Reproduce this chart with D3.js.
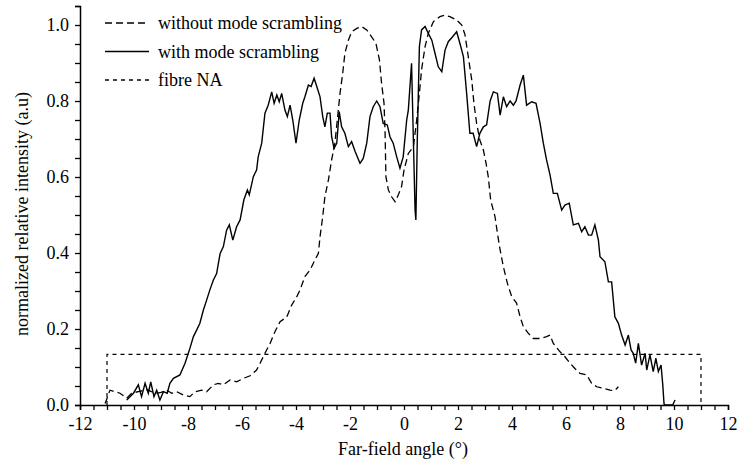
<!DOCTYPE html>
<html>
<head>
<meta charset="utf-8">
<script src="https://cdn.jsdelivr.net/npm/d3@7"></script>
<style>
  body { margin: 0; background: #fff; }
  #svg text { font-family: 'Liberation Serif', Tinos, 'Times New Roman', Times, serif !important; font-size: 18px !important; }
</style>
</head>
<body>
<svg id="svg" width="749" height="464"></svg>
<script>
// series (angle in degrees, normalised intensity)
var withAngle = [-10.27,-10.02,-9.84,-9.72,-9.59,-9.47,-9.38,-9.26,-9.16,-9.04,-8.91,-8.77,-8.67,-8.54,-8.30,-8.11,-7.93,-7.80,-7.68,-7.56,-7.43,-7.31,-7.19,-7.06,-6.94,-6.81,-6.69,-6.57,-6.47,-6.34,-6.20,-6.07,-5.93,-5.80,-5.73,-5.58,-5.46,-5.40,-5.27,-5.15,-5.03,-4.90,-4.81,-4.71,-4.62,-4.53,-4.41,-4.32,-4.22,-4.12,-4.00,-3.88,-3.75,-3.67,-3.54,-3.44,-3.33,-3.23,-3.11,-3.01,-2.93,-2.84,-2.74,-2.68,-2.59,-2.49,-2.40,-2.31,-2.19,-2.06,-1.94,-1.81,-1.63,-1.51,-1.38,-1.26,-1.14,-1.01,-0.89,-0.77,-0.62,-0.52,-0.40,-0.27,-0.15,-0.03,0.10,0.16,0.28,0.35,0.41,0.44,0.49,0.57,0.65,0.78,0.90,1.03,1.15,1.27,1.40,1.52,1.64,1.80,1.95,2.07,2.20,2.32,2.44,2.56,2.69,2.81,2.94,3.06,3.19,3.31,3.46,3.56,3.68,3.80,3.93,4.05,4.15,4.30,4.42,4.54,4.73,4.89,5.04,5.16,5.28,5.41,5.53,5.68,5.84,5.96,6.12,6.27,6.46,6.58,6.70,6.83,6.95,7.07,7.20,7.26,7.44,7.57,7.69,7.81,7.94,8.06,8.19,8.31,8.41,8.49,8.58,8.68,8.80,8.93,8.99,9.11,9.23,9.33,9.42,9.52,9.58,9.63,9.64,9.95,10.04];
var withValue = [0.013,0.031,0.053,0.022,0.057,0.031,0.061,0.022,0.039,0.013,0.035,0.031,0.057,0.070,0.079,0.110,0.149,0.180,0.197,0.215,0.250,0.276,0.303,0.329,0.346,0.399,0.417,0.460,0.474,0.434,0.469,0.487,0.540,0.566,0.553,0.601,0.618,0.653,0.689,0.768,0.789,0.824,0.794,0.816,0.798,0.820,0.776,0.759,0.789,0.750,0.689,0.750,0.794,0.811,0.842,0.838,0.860,0.838,0.811,0.759,0.732,0.768,0.768,0.706,0.675,0.689,0.772,0.732,0.715,0.680,0.693,0.667,0.636,0.649,0.689,0.759,0.785,0.800,0.785,0.741,0.737,0.706,0.689,0.653,0.623,0.653,0.750,0.776,0.899,0.689,0.513,0.487,0.689,0.943,0.987,0.996,0.978,0.960,0.925,0.890,0.877,0.934,0.956,0.969,0.982,0.952,0.917,0.820,0.715,0.715,0.680,0.715,0.732,0.737,0.800,0.824,0.820,0.763,0.811,0.785,0.800,0.789,0.800,0.842,0.868,0.789,0.798,0.794,0.741,0.689,0.645,0.605,0.557,0.557,0.513,0.526,0.531,0.474,0.478,0.456,0.469,0.447,0.447,0.474,0.434,0.390,0.377,0.324,0.324,0.232,0.215,0.184,0.158,0.184,0.145,0.136,0.110,0.162,0.105,0.136,0.092,0.132,0.088,0.123,0.088,0.105,0.057,0.004,0.000,0.000,0.013];

var withoutAngle = [-11.07,-10.89,-10.70,-10.52,-10.27,-10.09,-9.80,-9.50,-9.20,-9.00,-8.79,-8.60,-8.42,-8.17,-7.93,-7.74,-7.49,-7.31,-7.06,-6.88,-6.69,-6.44,-6.20,-5.95,-5.70,-5.46,-5.33,-5.15,-4.96,-4.78,-4.59,-4.34,-4.16,-3.97,-3.85,-3.67,-3.48,-3.30,-3.17,-3.11,-3.01,-2.93,-2.80,-2.68,-2.56,-2.47,-2.37,-2.27,-2.19,-2.06,-1.94,-1.75,-1.57,-1.38,-1.20,-1.04,-0.91,-0.83,-0.74,-0.70,-0.67,-0.58,-0.46,-0.33,-0.21,-0.09,0.00,0.16,0.35,0.47,0.57,0.65,0.78,0.90,1.09,1.33,1.52,1.70,1.95,2.14,2.26,2.38,2.51,2.59,2.69,2.81,2.94,3.04,3.12,3.21,3.37,3.46,3.56,3.68,3.83,3.99,4.17,4.30,4.42,4.60,4.79,5.04,5.28,5.41,5.53,5.78,5.96,6.15,6.33,6.52,6.77,6.95,7.14,7.38,7.63,7.81,7.94];
var withoutValue = [0.004,0.039,0.035,0.031,0.018,0.031,0.036,0.040,0.030,0.033,0.039,0.031,0.035,0.026,0.022,0.035,0.039,0.035,0.053,0.057,0.053,0.066,0.061,0.070,0.077,0.092,0.110,0.136,0.162,0.193,0.219,0.232,0.263,0.285,0.303,0.338,0.355,0.382,0.399,0.443,0.496,0.548,0.592,0.645,0.689,0.750,0.820,0.873,0.925,0.960,0.982,0.991,0.996,0.987,0.969,0.952,0.908,0.846,0.794,0.715,0.601,0.566,0.548,0.535,0.553,0.575,0.618,0.662,0.680,0.750,0.820,0.882,0.943,0.978,1.009,1.022,1.026,1.022,1.013,1.000,0.974,0.917,0.855,0.794,0.741,0.697,0.671,0.636,0.601,0.539,0.496,0.452,0.408,0.364,0.320,0.285,0.268,0.232,0.206,0.189,0.175,0.175,0.180,0.184,0.162,0.140,0.127,0.110,0.096,0.083,0.079,0.057,0.048,0.044,0.039,0.038,0.048];

var fibreAngle = [-11, -11, 11, 11];
var fibreValue = [0, 0.133, 0.133, 0];

var xTicks = [-12, -10, -8, -6, -4, -2, 0, 2, 4, 6, 8, 10, 12];
var yTicks = [0, 0.2, 0.4, 0.6, 0.8, 1.0];

var legendNames = ['without mode scrambling', 'with mode scrambling', 'fibre NA'];

var FONT = 'Liberation Serif';
var svg = d3.select('#svg');
var x = d3.scaleLinear().domain([-12, 12]).range([80, 728]);
var y = d3.scaleLinear().domain([0, 1.05]).range([405, 6]);

drawAxes();
drawLines();
drawLegend();

function drawAxes() {
    // minor ticks every 0.5 deg / 0.05
    let xMinor = d3.range(-12, 12.01, 0.5);
    let yMinor = d3.range(0, 1.051, 0.05);

    let xa = svg.append('g').attr('transform', 'translate(0,405)')
        .call(d3.axisBottom(x).tickValues(xMinor).tickSize(5).tickFormat(function(d) {
            return xTicks.indexOf(d) >= 0 ? d : '';
        }));
    let ya = svg.append('g').attr('transform', 'translate(80,0)')
        .call(d3.axisLeft(y).tickValues(yMinor).tickSize(5).tickFormat(function(d) {
            let r = Math.round(d * 100) / 100;
            return yTicks.indexOf(r) >= 0 ? r.toFixed(1) : '';
        }));

    [xa, ya].forEach(function(a) {
        a.attr('font-family', FONT).attr('font-size', 18);
        a.select('.domain').attr('stroke', '#000').attr('stroke-width', 1.5);
        a.selectAll('.tick line').attr('stroke', '#000').attr('stroke-width', 1.3);
        a.selectAll('.tick text').attr('fill', '#000');
    });
    xa.selectAll('.tick text').attr('y', 8).attr('dy', '0.95em');
    ya.selectAll('.tick text').attr('x', -11);

    svg.append('text')
        .attr('x', 403).attr('y', 455)
        .attr('text-anchor', 'middle')
        .attr('font-family', FONT)
        .text('Far-field angle (°)');

    svg.append('text')
        .attr('transform', 'translate(28,214) rotate(-90)')
        .attr('text-anchor', 'middle')
        .attr('font-family', FONT)
        .text('normalized relative intensity (a.u)');
}

function drawLines() {
    let line = d3.line()
        .x(function(d) { return x(d[0]); })
        .y(function(d) { return y(d[1]); });

    let g = svg.append('g');

    g.append('path')
        .attr('d', line(d3.zip(fibreAngle, fibreValue)))
        .attr('fill', 'none').attr('stroke', '#000')
        .attr('stroke-width', 1.2).attr('stroke-dasharray', '4,4');

    g.append('path')
        .attr('d', line(d3.zip(withoutAngle, withoutValue)))
        .attr('fill', 'none').attr('stroke', '#000')
        .attr('stroke-width', 1.3).attr('stroke-dasharray', '7,4');

    g.append('path')
        .attr('d', line(d3.zip(withAngle, withValue)))
        .attr('fill', 'none').attr('stroke', '#000')
        .attr('stroke-width', 1.4);
}

function drawLegend() {
    let dashes = ['7,4', null, '4,4'];
    let rows = svg.append('g').selectAll('g')
        .data(legendNames)
        .enter()
        .append('g')
        .attr('transform', function(d, i) { return 'translate(105,' + (23 + i * 28.5) + ')'; });

    rows.append('line')
        .attr('x1', 0).attr('x2', 44)
        .attr('stroke', '#000').attr('stroke-width', 1.3)
        .attr('stroke-dasharray', function(d, i) { return dashes[i]; });

    rows.append('text')
        .attr('x', 53).attr('dy', '0.35em')
        .attr('font-family', FONT)
        .text(function(d) { return d; });
}
</script>
</body>
</html>
